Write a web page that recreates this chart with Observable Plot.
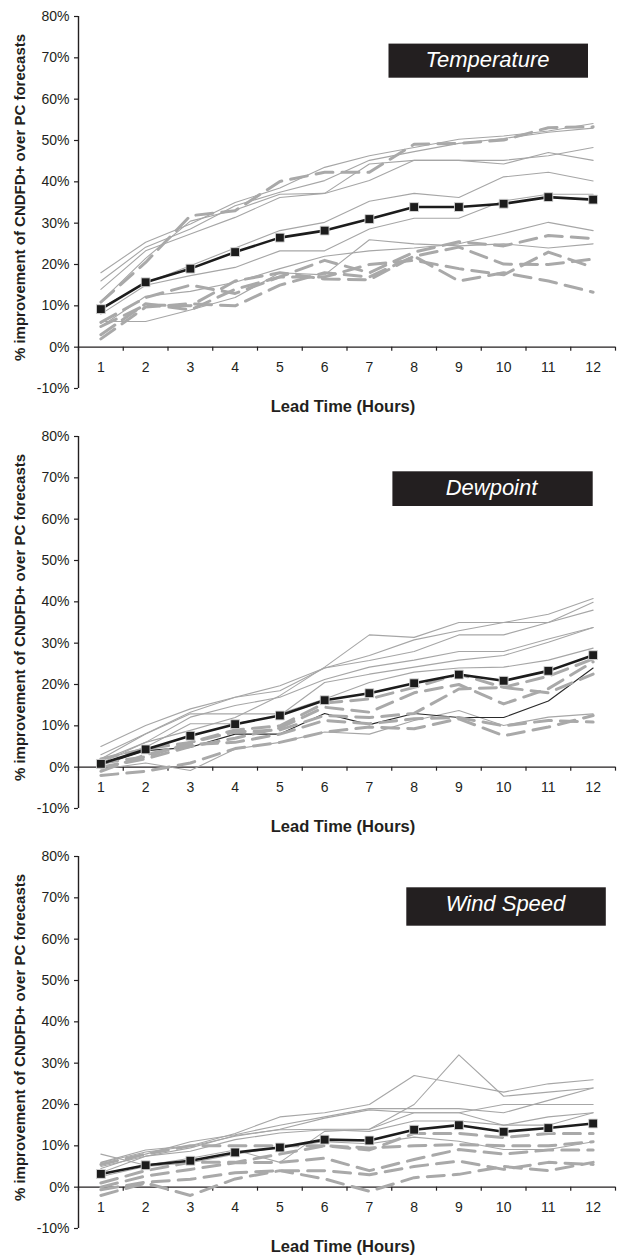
<!DOCTYPE html>
<html>
<head>
<meta charset="utf-8">
<script src="https://cdn.jsdelivr.net/npm/d3@7"></script>
<script src="https://cdn.jsdelivr.net/npm/@observablehq/plot@0.6"></script>
<style>
html, body { margin: 0; padding: 0; background: #fff; }
#charts { width: 622px; }
#charts svg { display: block; }
</style>
</head>
<body>
<div id="charts"></div>
<script>
// ---------- data ----------
const leadTimes = [1, 2, 3, 4, 5, 6, 7, 8, 9, 10, 11, 12];
const tickEdges = [0.5, 1.5, 2.5, 3.5, 4.5, 5.5, 6.5, 7.5, 8.5, 9.5, 10.5, 11.5, 12.5];
const yTicks = [-10, 0, 10, 20, 30, 40, 50, 60, 70, 80];
const panelTitles = ["Temperature", "Dewpoint", "Wind Speed"];
const xTitle = "Lead Time (Hours)";
const yTitle = "% improvement of CNDFD+ over PC forecasts";

// Temperature
const temperatureMean = [9.2, 15.7, 19.0, 23.0, 26.5, 28.2, 31.0, 33.9, 33.9, 34.7, 36.3, 35.7];
const temperatureSolid = [
  [18, 25.4, 29.8, 35, 38.5, 43.5, 46.3, 48.3, 50.3, 51.1, 52.3, 54.1],
  [16, 24.2, 28.6, 34.2, 37.5, 40.3, 45.2, 47.3, 49.3, 50.5, 52, 53],
  [14, 23.3, 27.4, 31.4, 36.2, 37.2, 44.3, 45.2, 45.2, 44.3, 47.1, 45.2],
  [11, 21.5, 30.5, 33.2, 37, 37.2, 40.3, 45.2, 45.2, 45.2, 46.3, 48.3],
  [9.5, 15.5, 19.7, 24, 28.2, 30.2, 35.3, 37.2, 36.2, 41.2, 42.3, 40.2],
  [8, 15, 17.3, 19.3, 23.3, 23.3, 28.6, 31.2, 31.2, 35.4, 37, 37],
  [6.2, 6.2, 9, 12, 18, 17.5, 26, 25, 24.5, 25, 24, 25],
  [5, 12.3, 13.5, 15.7, 19, 22, 23.3, 24, 25, 27.5, 30.2, 28.2]
];
const temperatureDashed = [
  [10.9, 20.5, 31.8, 33, 40.1, 42.3, 42.3, 49.1, 49.3, 50.1, 53.1, 53.3],
  [6, 12, 15, 13, 17, 21, 18, 23, 25.5, 24.5, 27, 26.3],
  [5, 10.2, 10, 16, 18, 16.5, 16.3, 22, 24.2, 20.1, 20, 21.3],
  [3, 10.5, 9, 14, 17, 17, 20, 21, 19, 17.5, 23, 19.3],
  [2, 9.7, 10.5, 10, 15, 18, 17, 22, 16, 18, 16, 13.3]
];

// Dewpoint
const dewpointMean = [0.8, 4.3, 7.6, 10.4, 12.5, 16.2, 17.9, 20.3, 22.4, 20.9, 23.3, 27.1];
const dewpointSolid = [
  [5, 10.1, 14.1, 16.9, 19.7, 24, 27, 30.8, 33, 35, 37, 40.8],
  [3, 8.1, 13.3, 16.9, 18.5, 24, 25.8, 28, 32, 32, 35, 39.9],
  [1.6, 6, 8.9, 12, 17.3, 24.2, 32, 31.4, 35, 35, 35, 38],
  [1, 6, 12.1, 14.9, 16.9, 21.2, 24.2, 25.9, 28, 28, 31, 33.8],
  [1.6, 4.8, 10.5, 10.5, 12.5, 20.5, 22.5, 24.2, 25.9, 27, 30.2, 33.8],
  [2, 8, 12.9, 12.9, 12.9, 16.5, 20.5, 23, 24, 24.2, 25.9, 28.8],
  [-0.5, 1, -0.8, 4.4, 6, 8.5, 8, 11.3, 13.7, 10.1, 12.1, 12.9]
];
const dewpointDark = [0.5, 4, 4.8, 8, 8, 13, 10.3, 13, 12, 12, 16, 24];
const dewpointDashed = [
  [1, 2.5, 6, 9, 10, 15.5, 16.5, 19.3, 22.5, 19.3, 22, 26.2],
  [0, 2, 5, 7, 9.5, 14.5, 13.3, 18, 20, 15.3, 19, 25.5],
  [-1, 3, 5.5, 6, 8, 11.3, 10.5, 11.7, 12, 10, 11.3, 10.9],
  [-2, -1, 1, 4.5, 6, 8.5, 9.7, 9.3, 11.7, 7.6, 9.7, 12.5],
  [2, 4.4, 6, 8.5, 9, 12.5, 12, 13, 18.9, 19.3, 18, 22.5]
];

// Wind Speed
const windMean = [3.2, 5.3, 6.4, 8.4, 9.6, 11.5, 11.3, 13.9, 15.0, 13.4, 14.3, 15.4];
const windSolid = [
  [6, 9, 10, 13, 17, 18, 20, 27, 25, 23, 25, 26],
  [5, 7.5, 9.5, 12.5, 13.9, 14, 14, 20, 32, 22, 23, 24],
  [4.5, 8, 11, 12.7, 15, 17, 19, 19, 19, 18, 21, 24],
  [5.9, 8.5, 9.9, 12.3, 14, 16.7, 18.7, 18, 18, 20, 20, 20],
  [3.5, 7.5, 8.7, 11.5, 13.1, 13.9, 13.5, 16, 16, 15, 17, 18],
  [8, 5.3, 7, 9, 6, 13.5, 14, 18, 18, 15, 15, 18],
  [2.6, 5, 5.9, 8, 9.6, 11, 10.5, 12.1, 11.1, 9.1, 9.1, 11]
];
const windDashed = [
  [5.5, 8, 10, 10, 10, 10, 9, 13, 13, 12, 13, 13],
  [1, 4, 6, 6, 8, 10, 9.5, 10, 10.3, 10, 10, 11],
  [0, 2.7, 4.3, 5.9, 6, 7, 4, 6.7, 9.1, 8, 9, 9],
  [-0.6, 1.2, 1.9, 3.5, 4, 4, 3, 5, 6.3, 4.3, 6, 5.5],
  [-2, 1, -2, 2, 4, 2, -1, 2.3, 3.1, 5, 4, 6]
];

// ---------- helpers ----------
function toRows(seriesList, group) {
  return seriesList.flatMap((vals, s) =>
    vals.map((v, i) => ({lead: leadTimes[i], value: v, series: group + s})));
}

const FONT = "'Liberation Sans', Arial, Helvetica, sans-serif";
const AXIS = "#231f20";

function panel({title, mean, solid, dark, dashed, box, height, marginBottom}) {
  const marginLeft = 78, marginRight = 7, marginTop = 16;
  const xDomain = [tickEdges[0], tickEdges[tickEdges.length - 1]];
  const yDomain = [yTicks[0], yTicks[yTicks.length - 1]];
  const solidRows = toRows(solid, "s");
  const dashedRows = toRows(dashed, "d");
  const darkRows = dark ? toRows([dark], "k") : [];
  const meanRows = toRows([mean], "m");
  return Plot.plot({
    width: 622,
    height,
    marginLeft, marginRight, marginTop, marginBottom,
    style: {fontFamily: FONT, background: "#fff", color: AXIS, overflow: "hidden"},
    x: {domain: xDomain, axis: null},
    y: {domain: yDomain},
    marks: [
      Plot.axisY({ticks: yTicks, tickFormat: d => d + "%", tickSize: 4, tickPadding: 5,
                  fontSize: 14, label: null, stroke: AXIS, strokeWidth: 1.2}),
      Plot.ruleX([xDomain[0]], {y1: yDomain[0], y2: yDomain[1], stroke: AXIS, strokeWidth: 1.4}),
      Plot.ruleY([0], {stroke: AXIS, strokeWidth: 1.4}),
      Plot.ruleX(tickEdges, {y1: 0, y2: 0, insetBottom: -4, stroke: AXIS, strokeWidth: 1.2}),
      Plot.text(leadTimes, {x: d => d, y: 0, dy: 20, text: d => String(d), fontSize: 14, fill: AXIS}),
      Plot.text([xTitle], {frameAnchor: "bottom", lineAnchor: "middle", textAnchor: "middle",
                           dx: -4, dy: 18, fontSize: 16.5, fontWeight: "bold", fill: AXIS}),
      Plot.text([yTitle], {frameAnchor: "left", lineAnchor: "middle", textAnchor: "middle", rotate: -90,
                           dx: -58, dy: -5, fontSize: 15, fontWeight: "bold", fill: AXIS}),
      Plot.line(solidRows, {x: "lead", y: "value", z: "series", stroke: "#a6a6a6", strokeWidth: 1.1}),
      Plot.line(darkRows, {x: "lead", y: "value", z: "series", stroke: "#2a2a2a", strokeWidth: 1.1}),
      Plot.line(dashedRows, {x: "lead", y: "value", z: "series", stroke: "#a9a9a9", strokeWidth: 3,
                             strokeDasharray: "17,9"}),
      Plot.line(meanRows, {x: "lead", y: "value", stroke: "#1c1c1c", strokeWidth: 2.6}),
      Plot.dot(meanRows, {x: "lead", y: "value", symbol: "square", r: 5, fill: "#1c1c1c",
                          stroke: "#d8d8d8", strokeWidth: 0.9}),
      Plot.rect([title], {insetLeft: box.left, insetRight: box.right, insetTop: box.top,
                          insetBottom: box.bottom, fill: "#231f20"}),
      Plot.text([title], {frameAnchor: "top-left", lineAnchor: "middle", textAnchor: "middle",
                          dx: box.cx, dy: box.cy, fill: "#fff", fontStyle: "italic", fontSize: 22})
    ]
  });
}

const root = document.getElementById("charts");
root.append(panel({
  title: panelTitles[0], mean: temperatureMean, solid: temperatureSolid, dashed: temperatureDashed,
  box: {left: 310.5, right: 27, top: 27.6, bottom: 310.3, cx: 409, cy: 43.5},
  height: 420, marginBottom: 32
}));
root.append(panel({
  title: panelTitles[1], mean: dewpointMean, solid: dewpointSolid, dark: dewpointDark, dashed: dewpointDashed,
  box: {left: 314.4, right: 22.3, top: 35.3, bottom: 302, cx: 413, cy: 51.5},
  height: 420, marginBottom: 32
}));
root.append(panel({
  title: panelTitles[2], mean: windMean, solid: windSolid, dashed: windDashed,
  box: {left: 328.3, right: 9.2, top: 31.3, bottom: 302.3, cx: 427, cy: 47.5},
  height: 416, marginBottom: 28
}));
</script>
</body>
</html>
